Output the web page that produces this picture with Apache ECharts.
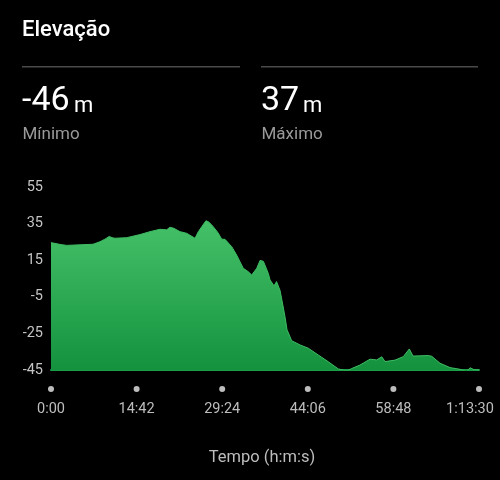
<!DOCTYPE html>
<html>
<head>
<meta charset="utf-8">
<script src="https://cdn.jsdelivr.net/npm/echarts@6/dist/echarts.min.js"></script>
<style>
html,body{margin:0;padding:0;background:#000;}
#c{width:500px;height:480px;}
</style>
</head>
<body>
<div id="c"></div>
<script>
// Time in seconds
var times = [0,41,93,162,299,433,505,556,601,629,659,780,917,1020,1123,1192,1226,1267,1329,1398,1484,1518,1556,1597,1628,1672,1721,1759,1775,1793,1862,1913,1947,1981,2033,2068,2120,2154,2188,2239,2257,2298,2324,2360,2380,2411,2432,2480,2566,2651,2754,2857,2960,3047,3098,3184,3287,3356,3408,3442,3545,3630,3692,3730,3888,3923,4008,4111,4214,4283,4317,4359,4410];
// Elevation in metres
var elevations = [24.6,24.2,23.6,23.1,23.4,23.7,25.1,26.5,28.0,27.3,27.0,27.3,29.0,30.6,31.9,31.6,33.0,32.4,30.6,29.7,27.0,30.6,33.5,36.6,35.8,33.3,30.0,26.5,26.0,26.4,22.4,17.8,14.2,10.6,8.7,6.9,10.6,14.9,14.4,7.8,4.2,1.0,3.3,-1.5,-7,-15.9,-23,-29.0,-31.3,-33.1,-36.8,-40.5,-44.4,-45.5,-44.2,-42.3,-39.1,-39.5,-37.8,-40.4,-39.6,-37.7,-33.5,-37.4,-37.1,-37.5,-41.3,-43.7,-44.6,-46,-43.8,-44.8,-45];
var xTickLabels = ['0:00','14:42','29:24','44:06','58:48','1:13:30'];
var yTicks = [-45,-25,-5,15,35,55];
var minValue = '-46', maxValue = '37';

var data = times.map(function(t,i){return [t, elevations[i]];});

var chart = echarts.init(document.getElementById('c'), null, {renderer:'canvas'});
var FONT = 'Roboto, "Noto Sans", sans-serif';
chart.setOption({
  backgroundColor:'#000',
  animation:false,
  grid:{left:51,right:21,top:187,bottom:110,containLabel:false,outerBoundsMode:'none'},
  xAxis:{
    type:'value', min:0, max:4410, interval:882,
    axisLine:{show:true,onZero:false,lineStyle:{color:'#1a9e48',width:2}},
    axisTick:{show:false},
    splitLine:{show:false},
    axisLabel:{
      margin:16,
      hideOverlap:false,
      formatter:function(v){
        var i = Math.round(v/882);
        var st = (i === xTickLabels.length-1) ? 'tl' : 't';
        return '{d|}\n{'+st+'|'+xTickLabels[i]+'}';
      },
      rich:{
        d:{width:6,height:6,lineHeight:6,borderRadius:3,backgroundColor:'#bdbdbd',align:'center'},
        t:{fontSize:14.5,color:'#bdbdbd',fontFamily:FONT,lineHeight:34,align:'center'},
        tl:{fontSize:14.5,color:'#bdbdbd',fontFamily:FONT,lineHeight:34,align:'left',padding:[0,18,0,0]}
      }
    },
    name:'Tempo (h:m:s)',
    nameLocation:'middle',
    nameGap:79,
    nameTextStyle:{color:'#bdbdbd',fontSize:16.5,fontFamily:FONT,padding:[0,6,0,0]}
  },
  yAxis:{
    type:'value', min:yTicks[0], max:yTicks[yTicks.length-1], interval:20,
    axisLine:{show:false}, axisTick:{show:false}, splitLine:{show:false},
    axisLabel:{color:'#c4c4c4',fontSize:14.5,fontFamily:FONT,margin:8}
  },
  series:[{
    type:'line',
    data:data,
    showSymbol:false,
    lineStyle:{width:1,color:'#3fbc63'},
    areaStyle:{
      origin:'start',
      opacity:1,
      color:new echarts.graphic.LinearGradient(0,0,0,1,[
        {offset:0,color:'#44c168'},
        {offset:1,color:'#14913d'}
      ])
    },
    z:1
  }],
  graphic:[
    {type:'text',x:22,y:30,style:{text:'Elevação',fill:'#fff',font:'500 22px '+FONT,verticalAlign:'middle'}},
    {type:'rect',shape:{x:22,y:66,width:218,height:1.5},style:{fill:'#4a4a4a'}},
    {type:'rect',shape:{x:261,y:66,width:217,height:1.5},style:{fill:'#4a4a4a'}},
    {type:'text',x:22,y:101,style:{text:minValue,fill:'#fff',font:'34px '+FONT,verticalAlign:'middle'}},
    {type:'text',x:74,y:106,style:{text:'m',fill:'#fff',font:'22px '+FONT,verticalAlign:'middle'}},
    {type:'text',x:22.5,y:135,style:{text:'Mínimo',fill:'#9a9a9a',font:'17px '+FONT,verticalAlign:'middle'}},
    {type:'text',x:261,y:101,style:{text:maxValue,fill:'#fff',font:'34px '+FONT,verticalAlign:'middle'}},
    {type:'text',x:303,y:106,style:{text:'m',fill:'#fff',font:'22px '+FONT,verticalAlign:'middle'}},
    {type:'text',x:261.5,y:135,style:{text:'Máximo',fill:'#9a9a9a',font:'17px '+FONT,verticalAlign:'middle'}}
  ]
});
</script>
</body>
</html>
